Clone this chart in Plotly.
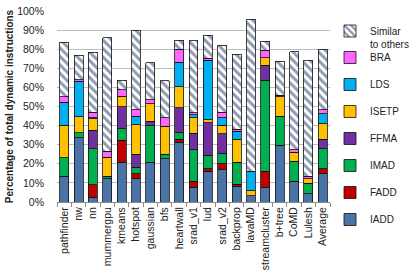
import plotly.graph_objects as go

categories = ["pathfinder", "nw", "nn", "mummergpu", "kmeans", "hotspot", "gaussian", "bfs",
              "heartwall", "srad_v1", "lud", "srad_v2", "backprop", "lavaMD", "streamcluster",
              "b+tree", "CoMD", "Lulesh", "Average"]

iadd    = [13.5, 33.7, 2.5, 12.2, 20.7, 12.5, 20.9, 22.7, 31.4, 7.8, 16.2, 16.9, 8.3, 3.4, 7.8, 29.7, 10.9, 4.4, 15.1]
fadd    = [0, 0, 6.5, 0, 11.6, 2.3, 0, 0, 1.4, 3.0, 1.2, 3.1, 0.9, 0, 8.2, 0, 0, 0, 2.3]
imad    = [9.7, 2.5, 19.0, 1.3, 6.1, 3.5, 19.3, 2.2, 3.6, 16.6, 7.0, 5.6, 11.7, 0, 47.8, 15.3, 10.5, 5.5, 10.5]
ffma    = [0, 0, 9.5, 0, 11.4, 6.6, 2.2, 0, 13.0, 8.7, 17.0, 10.2, 0, 0, 7.8, 0, 0, 0, 4.9]
isetp   = [17.0, 8.5, 6.0, 10.0, 5.6, 15.6, 9.1, 14.7, 10.9, 8.1, 1.7, 4.4, 11.9, 2.6, 4.0, 10.0, 4.7, 2.3, 8.2]
lds     = [12.0, 18.5, 0.5, 0, 0, 4.5, 0, 0, 12.8, 1.6, 31.2, 4.0, 4.2, 10.0, 0, 0, 0, 0, 5.3]
bra     = [3.0, 0.7, 3.0, 3.0, 3.5, 3.4, 2.1, 4.6, 6.8, 1.0, 0.9, 2.9, 1.0, 0, 3.8, 0.9, 1.3, 1.2, 2.1]
similar = [28.5, 13.0, 31.5, 59.5, 4.9, 41.6, 19.4, 19.2, 4.9, 37.6, 12.2, 35.0, 39.4, 79.8, 4.7, 17.9, 51.2, 60.9, 31.5]

y_ticks = [0, 10, 20, 30, 40, 50, 60, 70, 80, 90, 100]
y_tick_labels = [f"{v}%" for v in y_ticks]

series = [
    ("IADD", iadd, "#4A74A8"),
    ("FADD", fadd, "#C00000"),
    ("IMAD", imad, "#00B050"),
    ("FFMA", ffma, "#7030A0"),
    ("ISETP", isetp, "#FFC000"),
    ("LDS", lds, "#00B0F0"),
    ("BRA", bra, "#FF66FF"),
]

FONT = "Liberation Sans, Arial, sans-serif"
W, H = 415, 277

fig = go.Figure()
n = len(series)
for i, (name, vals, col) in enumerate(series):
    fig.add_trace(go.Bar(
        x=categories, y=vals, name=name, legendgroup=name,
        legendrank=n - i,
        marker=dict(color=col, line=dict(color="#111111", width=0.8)),
        legend="legend",
    ))

fig.add_trace(go.Bar(
    x=categories, y=similar, name="Similar<br>to others",
    marker=dict(color="white", line=dict(color="#111111", width=0.8),
                pattern=dict(shape="\\", fgcolor="#1F3864", bgcolor="white",
                             size=6, solidity=0.5)),
    legend="legend2",
))

fig.update_layout(
    barmode="stack",
    bargap=0.38,
    width=W, height=H,
    margin=dict(l=57, r=71, t=11, b=75),
    plot_bgcolor="white", paper_bgcolor="white",
    font=dict(family=FONT, size=10, color="#222222"),
    showlegend=True,
    legend=dict(xref="container", yref="container",
                x=330 / W, xanchor="left", y=1 - 43 / H, yanchor="top",
                traceorder="grouped", tracegroupgap=8, maxheight=260,
                font=dict(size=10), itemwidth=30,
                bgcolor="rgba(0,0,0,0)"),
    legend2=dict(xref="container", yref="container",
                 x=330 / W, xanchor="left", y=1 - 18 / H, yanchor="top",
                 font=dict(size=10), itemwidth=30,
                 bgcolor="rgba(0,0,0,0)", valign="top"),
    xaxis=dict(
        type="category", tickangle=-90, showgrid=False, automargin=False,
        showline=True, linecolor="#8C8C8C", linewidth=1,
        ticks="outside", tickson="boundaries", ticklen=4, tickcolor="#8C8C8C",
        tickfont=dict(size=10.5),
    ),
    yaxis=dict(
        range=[0, 100], tickvals=y_ticks, ticktext=y_tick_labels,
        showgrid=True, gridcolor="#BDBDBD", gridwidth=1, automargin=False,
        zeroline=False, showline=False, ticks="",
        ticklabelstandoff=12,
        tickfont=dict(size=10.5),
        title=dict(text="<b>Percentage of total dynamic instructions</b>",
                   font=dict(size=10), standoff=1),
    ),
)

fig.write_html(
    "out.html",
    config={"displayModeBar": False},
    post_script="document.body.style.margin='0';document.body.style.overflow='hidden';",
)
